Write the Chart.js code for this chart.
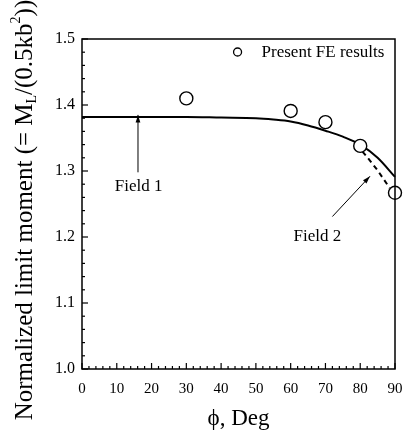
<!DOCTYPE html>
<html>
<head>
<meta charset="utf-8">
<script src="https://cdn.jsdelivr.net/npm/chart.js@4.4.1/dist/chart.umd.min.js"></script>
<style>
  html, body { margin: 0; padding: 0; background: #fff; }
  #wrap { width: 407px; height: 437px; }
</style>
</head>
<body>
<div id="wrap"><canvas id="myChart" width="407" height="437"></canvas></div>
<script>
// FE results (circles)
const feAngles = [30, 60, 70, 80, 90];
const feValues = [1.410, 1.391, 1.374, 1.338, 1.267];

// Field 1 solution (solid line)
const field1Angles = [0, 10, 20, 30, 40, 50, 55, 60, 65, 70, 75, 80, 85, 90];
const field1Values = [1.382, 1.382, 1.382, 1.382, 1.381, 1.380, 1.378, 1.375, 1.369, 1.361, 1.352, 1.340, 1.320, 1.291];

// Field 2 solution (dashed line)
const field2Angles = [79, 82, 85, 88.5];
const field2Values = [1.340, 1.321, 1.301, 1.274];

const xTicks = [0, 10, 20, 30, 40, 50, 60, 70, 80, 90];
const yTicks = [1.0, 1.1, 1.2, 1.3, 1.4, 1.5];

const toXY = (xs, ys) => xs.map((x, i) => ({x: x, y: ys[i]}));

const serif = '"Liberation Serif", "DejaVu Serif", serif';

// draws inward ticks, frame, labels, arrows and legend
const decorations = {
  id: 'decorations',
  afterDraw(chart) {
    const ctx = chart.ctx;
    const xs = chart.scales.x, ys = chart.scales.y;
    const a = chart.chartArea;
    ctx.save();
    ctx.strokeStyle = '#000';
    ctx.lineWidth = 1.5;
    ctx.strokeRect(a.left, a.top, a.right - a.left, a.bottom - a.top);

    ctx.lineWidth = 1.2;
    for (let v = 0; v <= 90; v += 2) {
      const px = xs.getPixelForValue(v);
      const len = v % 10 === 0 ? 6 : 3;
      ctx.beginPath();
      ctx.moveTo(px, a.bottom); ctx.lineTo(px, a.bottom - len);
      ctx.stroke();
    }
    for (let k = 0; k <= 25; k++) {
      const v = 1.0 + k * 0.02;
      const py = ys.getPixelForValue(v);
      const len = k % 5 === 0 ? 6 : 3;
      ctx.beginPath();
      ctx.moveTo(a.left, py); ctx.lineTo(a.left + len, py);
      ctx.stroke();
    }

    // legend
    const lx = a.left + (a.right - a.left) * 0.497;
    const ly = a.top + 13;
    ctx.beginPath();
    ctx.arc(lx, ly, 4, 0, Math.PI * 2);
    ctx.lineWidth = 1.3;
    ctx.stroke();
    ctx.fillStyle = '#000';
    ctx.font = '17px ' + serif;
    ctx.textAlign = 'left';
    ctx.textBaseline = 'middle';
    ctx.fillText('Present FE results', lx + 24, ly + 1);

    // field labels
    ctx.textAlign = 'center';
    ctx.font = '17px ' + serif;
    ctx.fillText('Field 1', xs.getPixelForValue(16.3), ys.getPixelForValue(1.277));
    ctx.fillText('Field 2', xs.getPixelForValue(67.7), ys.getPixelForValue(1.201));

    const arrow = (x0, y0, x1, y1) => {
      const p0 = [xs.getPixelForValue(x0), ys.getPixelForValue(y0)];
      const p1 = [xs.getPixelForValue(x1), ys.getPixelForValue(y1)];
      ctx.lineWidth = 1;
      ctx.beginPath();
      ctx.moveTo(p0[0], p0[1]); ctx.lineTo(p1[0], p1[1]);
      ctx.stroke();
      const ang = Math.atan2(p1[1] - p0[1], p1[0] - p0[0]);
      ctx.beginPath();
      ctx.moveTo(p1[0], p1[1]);
      ctx.lineTo(p1[0] - 8 * Math.cos(ang - 0.3), p1[1] - 8 * Math.sin(ang - 0.3));
      ctx.lineTo(p1[0] - 8 * Math.cos(ang + 0.3), p1[1] - 8 * Math.sin(ang + 0.3));
      ctx.closePath();
      ctx.fill();
    };
    arrow(16.1, 1.298, 16.1, 1.385);
    arrow(72.0, 1.231, 82.8, 1.292);

    // y title with sub/superscripts
    ctx.save();
    ctx.translate(25, 210);
    ctx.rotate(-Math.PI / 2);
    ctx.textAlign = 'left';
    ctx.textBaseline = 'middle';
    const big = '25px ' + serif, small = '14px ' + serif;
    const parts = [
      ['Normalized limit moment (= M', big, 0],
      ['L', small, 7],
      ['/(0.5kb', big, 0],
      ['2', small, -9],
      ['))', big, 0]
    ];
    let w = 0;
    parts.forEach(p => { ctx.font = p[1]; w += ctx.measureText(p[0]).width; });
    let cx = -w / 2;
    parts.forEach(p => {
      ctx.font = p[1];
      ctx.fillText(p[0], cx, p[2]);
      cx += ctx.measureText(p[0]).width;
    });
    ctx.restore();
    ctx.restore();
  }
};

const config = {
  type: 'scatter',
  data: {
    datasets: [{
      label: 'Field 1',
      data: toXY(field1Angles, field1Values),
      showLine: true,
      borderColor: '#000',
      borderWidth: 2,
      pointRadius: 0,
      cubicInterpolationMode: 'monotone',
      order: 3
    }, {
      label: 'Field 2',
      data: toXY(field2Angles, field2Values),
      showLine: true,
      borderColor: '#000',
      borderWidth: 2,
      borderDash: [5, 4],
      pointRadius: 0,
      order: 2
    }, {
      label: 'Present FE results',
      data: toXY(feAngles, feValues),
      showLine: false,
      pointStyle: 'circle',
      pointRadius: 6.5,
      borderColor: '#000',
      borderWidth: 1.4,
      backgroundColor: '#fff',
      order: 1
    }]
  },
  options: {
    responsive: false,
    animation: false,
    layout: { padding: { top: 39, right: 12, left: 0, bottom: 0 } },
    plugins: {
      legend: { display: false },
      tooltip: { enabled: false }
    },
    scales: {
      x: {
        type: 'linear',
        min: 0, max: 90,
        afterBuildTicks: s => { s.ticks = xTicks.map(v => ({value: v})); },
        afterFit: s => { s.height = 68; s.paddingLeft = 0; s.paddingRight = 0; },
        grid: { display: false, drawTicks: false },
        border: { display: false },
        ticks: {
          color: '#000', padding: 11,
          font: { family: serif, size: 15 },
          callback: v => v
        },
        title: {
          display: true, text: 'ϕ, Deg', color: '#000',
          font: { family: serif, size: 23 },
          padding: { top: 2 }
        }
      },
      y: {
        type: 'linear',
        min: 1.0, max: 1.5,
        afterBuildTicks: s => { s.ticks = yTicks.map(v => ({value: v})); },
        afterFit: s => { s.width = 82; s.paddingTop = 0; s.paddingBottom = 0; },
        grid: { display: false, drawTicks: false },
        border: { display: false },
        ticks: {
          color: '#000', padding: 7,
          font: { family: serif, size: 16 },
          callback: v => v.toFixed(1)
        }
      }
    },
    clip: false
  },
  plugins: [decorations]
};

const myChart = new Chart(document.getElementById('myChart'), config);
</script>
</body>
</html>
